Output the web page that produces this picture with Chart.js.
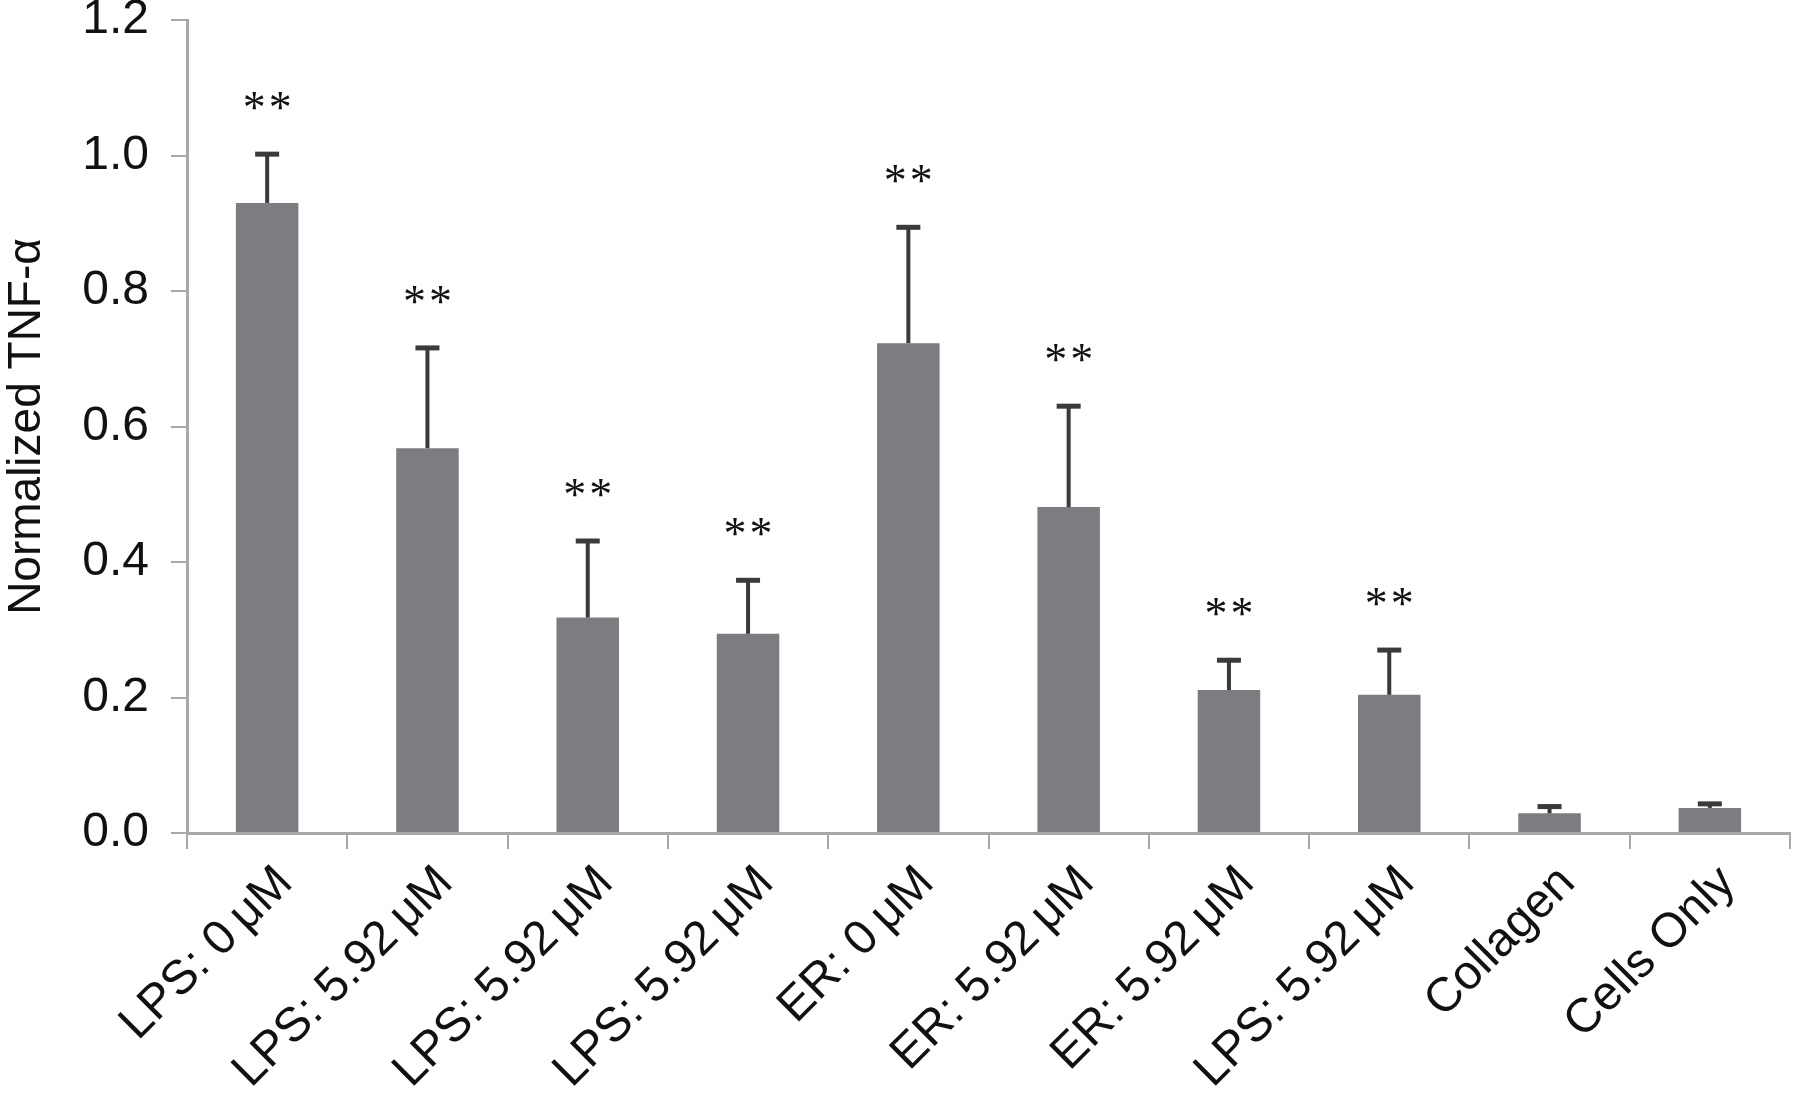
<!DOCTYPE html>
<html>
<head>
<meta charset="utf-8">
<script src="https://cdn.jsdelivr.net/npm/chart.js@4"></script>
<style>
  html, body { margin: 0; padding: 0; background: #fff; }
  #wrap { width: 1800px; height: 1104px; }
</style>
</head>
<body>
<div id="wrap"><canvas id="myChart" width="1800" height="1104"></canvas></div>
<script>
const categories = [
  "LPS: 0\u2009\u03bcM",
  "LPS: 5.92\u2009\u03bcM",
  "LPS: 5.92\u2009\u03bcM",
  "LPS: 5.92\u2009\u03bcM",
  "ER: 0\u2009\u03bcM",
  "ER: 5.92\u2009\u03bcM",
  "ER: 5.92\u2009\u03bcM",
  "LPS: 5.92\u2009\u03bcM",
  "Collagen",
  "Cells Only",
];
const meanValues = [0.93, 0.568, 0.318, 0.294, 0.723, 0.481, 0.211, 0.204, 0.029, 0.037];
const errorTops = [1.002, 0.716, 0.431, 0.373, 0.894, 0.630, 0.255, 0.270, 0.039, 0.043];
const significance = [2, 2, 2, 2, 2, 2, 2, 2, 0, 0];

const FONT = "'Liberation Sans', Arial, Helvetica, sans-serif";

// upper error bars plus the ** marks
const errorBarPlugin = {
  id: "errorBars",
  afterDatasetsDraw(chart) {
    const { ctx, scales: { x, y } } = chart;
    ctx.save();
    ctx.strokeStyle = "#3a3a3c";
    ctx.font = "46px 'Liberation Serif', 'Times New Roman', serif";
    ctx.textAlign = "center";
    ctx.textBaseline = "alphabetic";
    const m = ctx.measureText("*");
    const mid = (m.actualBoundingBoxAscent - m.actualBoundingBoxDescent) / 2;
    for (let i = 0; i < meanValues.length; i++) {
      const cx = x.getPixelForValue(i);
      const yBar = y.getPixelForValue(meanValues[i]);
      const yTop = y.getPixelForValue(errorTops[i]);
      ctx.lineWidth = 4;
      ctx.beginPath();
      ctx.moveTo(cx, yBar);
      ctx.lineTo(cx, yTop);
      ctx.stroke();
      ctx.lineWidth = 5;
      ctx.beginPath();
      ctx.moveTo(cx - 12, yTop);
      ctx.lineTo(cx + 12, yTop);
      ctx.stroke();
      ctx.fillStyle = "#111";
      for (let k = 0; k < significance[i]; k++) {
        const sx = cx + (k - (significance[i] - 1) / 2) * 26;
        ctx.fillText("*", sx, yTop - 53 + mid);
      }
    }
    ctx.restore();
  },
};

const ctx = document.getElementById("myChart");

new Chart(ctx, {
  type: "bar",
  data: {
    labels: categories,
    datasets: [
      {
        label: "Normalized TNF-\u03b1",
        data: meanValues,
        backgroundColor: "#7c7d81",
        borderWidth: 0,
        barPercentage: 0.39,
        categoryPercentage: 1,
      },
    ],
  },
  options: {
    responsive: false,
    animation: false,
    layout: { padding: { top: 20, right: 10, left: 0, bottom: 0 } },
    plugins: {
      legend: { display: false },
      tooltip: { enabled: false },
    },
    scales: {
      x: {
        offset: true,
        grid: {
          offset: true,
          drawOnChartArea: false,
          drawTicks: true,
          tickLength: 16,
          color: "#a8a8a8",
          lineWidth: 2,
        },
        border: { color: "#a8a8a8", width: 3 },
        ticks: {
          color: "#111",
          font: { family: FONT, size: 48 },
          minRotation: 45,
          maxRotation: 45,
          padding: 6,
          labelOffset: 18,
          autoSkip: false,
        },
        afterFit: (scale) => { scale.height = 271; },
      },
      y: {
        min: 0,
        max: 1.2,
        grid: {
          drawOnChartArea: false,
          drawTicks: true,
          tickLength: 16,
          color: "#a8a8a8",
          lineWidth: 2,
        },
        border: { color: "#a8a8a8", width: 3 },
        ticks: {
          stepSize: 0.2,
          color: "#111",
          font: { family: FONT, size: 48 },
          padding: 22,
          callback: (v) => Number(v).toFixed(1),
        },
        title: {
          display: true,
          text: "Normalized TNF-\u03b1",
          color: "#111",
          font: { family: FONT, size: 46 },
          padding: { top: 0, bottom: 0 },
        },
        afterFit: (scale) => {
          scale.width = 187;
          scale.paddingTop = 0;
          scale.paddingBottom = 0;
        },
      },
    },
  },
  plugins: [errorBarPlugin],
});
</script>
</body>
</html>
